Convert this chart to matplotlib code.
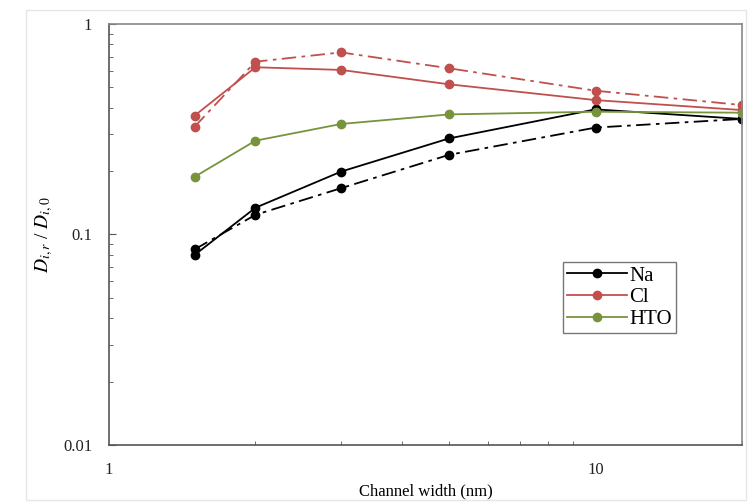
import matplotlib
matplotlib.use('Agg')
import matplotlib.pyplot as plt
from matplotlib.ticker import LogLocator, FixedLocator, FixedFormatter, NullFormatter
from matplotlib.patches import Rectangle

plt.rcParams['font.family'] = ['Liberation Serif', 'DejaVu Serif']
plt.rcParams['mathtext.fontset'] = 'stix'

# channel width (nm)
width = [1.5, 2, 3, 5, 10, 20]

# relative diffusivities, solid and dash-dot series
na_solid = [0.080, 0.134, 0.199, 0.286, 0.393, 0.354]
na_dash = [0.085, 0.124, 0.166, 0.239, 0.322, 0.354]
cl_solid = [0.367, 0.623, 0.605, 0.517, 0.435, 0.390]
cl_dash = [0.325, 0.662, 0.733, 0.616, 0.482, 0.412]
hto = [0.188, 0.279, 0.335, 0.372, 0.383, 0.379]

c_na = '#000000'
c_cl = '#c0504d'
c_hto = '#77933c'

fig = plt.figure(figsize=(7.5, 5.03), dpi=100)
ax = fig.add_axes([0.1453, 0.1153, 0.8440, 0.8370])

ms = 6
lw = 1.3
ax.plot(width, na_dash, color=c_na, lw=lw, ls=(0, (8, 3, 2, 3)), marker='o', ms=ms)
ax.plot(width, cl_dash, color=c_cl, lw=lw, ls=(0, (8, 3, 2, 3)), marker='o', ms=ms)
ax.plot(width, na_solid, color=c_na, lw=lw, marker='o', ms=ms, label='Na')
ax.plot(width, cl_solid, color=c_cl, lw=lw, marker='o', ms=ms, label='Cl')
ax.plot(width, hto, color=c_hto, lw=lw, marker='o', ms=ms, label='HTO')

ax.set_xscale('log')
ax.set_yscale('log')
ax.set_xlim(1, 20)
ax.set_ylim(0.01, 1)

ax.xaxis.set_major_locator(FixedLocator([1, 10]))
ax.xaxis.set_major_formatter(FixedFormatter(['1', '10']))
ax.xaxis.set_minor_locator(LogLocator(base=10, subs=range(2, 10)))
ax.xaxis.set_minor_formatter(NullFormatter())
ax.yaxis.set_major_locator(FixedLocator([0.01, 0.1, 1]))
ax.yaxis.set_major_formatter(FixedFormatter(['0.01', '0.1', '1']))
ax.yaxis.set_minor_locator(LogLocator(base=10, subs=range(2, 10)))
ax.yaxis.set_minor_formatter(NullFormatter())

ax.tick_params(which='both', direction='in', colors='#555555', labelcolor='#222222', labelsize=12)
ax.tick_params(which='major', length=5, pad=12)
ax.tick_params(which='minor', length=3)
ax.tick_params(axis='x', which='major', length=0, pad=12)
for s in ax.spines.values():
    s.set_color('#888888')
    s.set_linewidth(1.2)
ax.spines['left'].set_color('#555555')
ax.spines['bottom'].set_color('#555555')

ax.set_xlabel('Channel width (nm)', fontsize=12, labelpad=4)
ax.set_ylabel(r'$D_{i,r}$ / $D_{i,0}$', fontsize=14, labelpad=6)

leg = ax.legend(loc='upper left', bbox_to_anchor=(0.717, 0.435), fontsize=15,
                frameon=True, fancybox=False, handlelength=2.9, handletextpad=0.1,
                borderpad=0.2, labelspacing=0.1, borderaxespad=0)
leg.get_frame().set_edgecolor('#555555')
leg.get_frame().set_linewidth(1.0)

fig.patches.append(Rectangle((0.035, 0.005), 0.96, 0.975, transform=fig.transFigure,
                             fill=False, edgecolor='#e6e6e6', lw=1))

fig.savefig('out.png', dpi=100)
